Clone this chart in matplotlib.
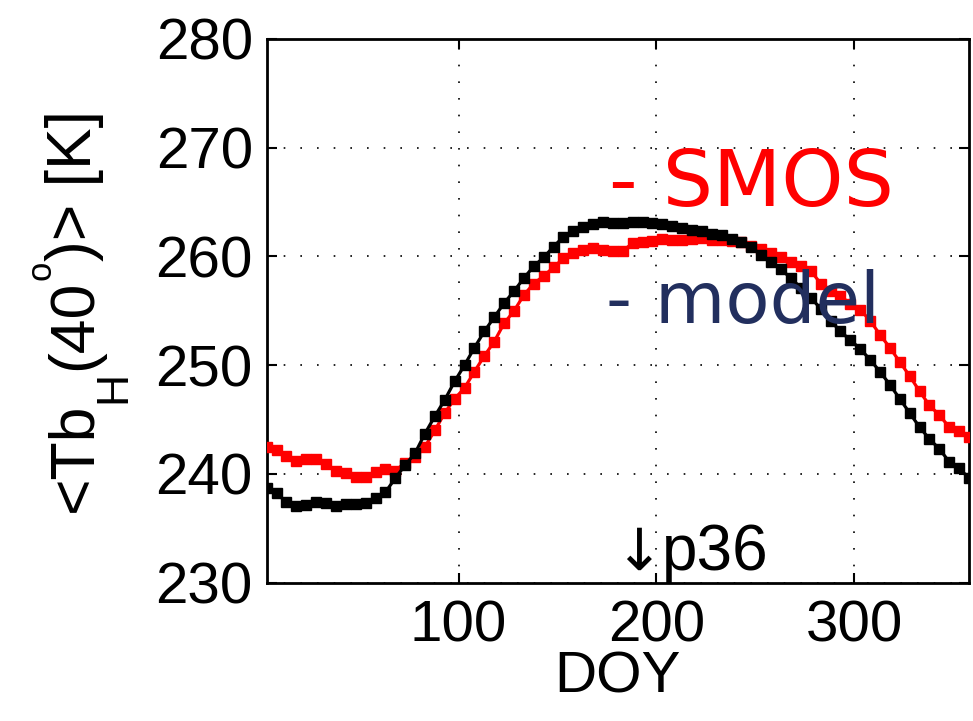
import matplotlib
matplotlib.use("Agg")
import matplotlib.pyplot as plt
import numpy as np

plt.rcParams['font.family'] = ['Liberation Sans', 'DejaVu Sans']

# Day of year (5-day steps)
doy = list(range(3, 359, 5))

tb_smos = [242.5, 242.2, 241.6, 241.15, 241.4, 241.35, 240.9, 240.3, 240.05, 239.7,
           239.7, 240.2, 240.4, 240.3, 241.0, 241.5, 242.5, 244.0, 245.6, 246.9,
           247.9, 249.4, 250.84, 252.16, 253.84, 254.98, 256.45, 257.5, 258.2, 259.0,
           259.82, 260.34, 260.6, 260.74, 260.6, 260.53, 260.53, 261.2, 261.35, 261.42,
           261.57, 261.5, 261.5, 261.6, 261.66, 261.55, 261.5, 261.4, 261.3, 260.95,
           260.65, 260.35, 259.9, 259.5, 259.1, 258.7, 257.5, 256.8, 256.4, 255.6,
           255.1, 254.1, 252.8, 251.6, 250.3, 249.0, 247.6, 246.3, 245.4, 244.3,
           243.9, 243.4]

tb_model = [238.7, 238.2, 237.4, 237.0, 237.1, 237.4, 237.3, 237.0, 237.2, 237.2,
            237.3, 237.8, 238.3, 239.6, 240.8, 241.9, 243.7, 245.3, 246.8, 248.5,
            250.0, 251.6, 253.1, 254.4, 255.7, 256.8, 258.0, 259.1, 259.9, 260.9,
            261.8, 262.3, 262.7, 263.0, 263.2, 263.1, 263.1, 263.2, 263.2, 263.1,
            262.95, 262.8, 262.6, 262.45, 262.3, 262.1, 262.0, 261.6, 261.35, 260.9,
            260.1, 259.5, 258.8, 258.0, 257.1, 256.2, 255.2, 254.1, 253.1, 252.3,
            251.5, 250.5, 249.4, 248.2, 246.9, 245.6, 244.3, 243.2, 242.3, 241.1,
            240.5, 239.6]

xticks = [100, 200, 300]
yticks = [230, 240, 250, 260, 270, 280]

W, H = 973, 721
fig = plt.figure(figsize=(W / 100, H / 100), dpi=100)
L, R, T, B = 266.7, 969, 39, 582.5
ax = fig.add_axes([L / W, 1 - B / H, (R - L) / W, (B - T) / H])

ax.plot(doy, tb_smos, '-s', color='#ff0000', lw=2.3, ms=7.3, mec='#ff0000', mfc='#ff0000', zorder=3)
ax.plot(doy, tb_model, '-s', color='#000000', lw=2.3, ms=7.3, mec='#000000', mfc='#000000', zorder=4)

ax.set_xlim(3, 358)
ax.set_ylim(230, 280)
ax.set_xticks(xticks)
ax.set_yticks(yticks)
ax.set_xticklabels([str(v) for v in xticks])
ax.set_yticklabels([str(v) for v in yticks])
ax.tick_params(direction='in', length=7, width=1.5, labelsize=42, top=True, right=True,
               colors='black')
ax.tick_params(axis='x', pad=12)
ax.tick_params(axis='y', pad=10)
for s in ax.spines.values():
    s.set_linewidth(2.0)
ax.grid(True, color='black', linestyle=(0, (1, 9)), linewidth=1.2)
ax.set_axisbelow(True)

ax.set_xlabel('DOY', fontsize=42, labelpad=-2)


def px(x, y):
    return x / W, 1 - y / H


# y-label built from pieces (rotated 90 degrees), bottom to top
fig.canvas.draw()
renderer = fig.canvas.get_renderer()
base_x = 91.0
pieces = [('<Tb', 45, 0.0), ('H', 32, 34.0), ('(40', 45, 0.0), ('o', 25, -40.0), (')> [K]', 45, 0.0)]
ycur = 512.0
for s, fs, dx in pieces:
    t = fig.text(*px(base_x + dx, ycur), s, fontsize=fs, rotation=90, rotation_mode='anchor',
                 ha='left', va='baseline', color='black')
    bb = t.get_window_extent(renderer=renderer)
    ycur -= bb.height

fig.text(*px(609, 206), '- SMOS', color='#ff0000', fontsize=57, family='DejaVu Sans',
         ha='left', va='baseline', zorder=10)
fig.text(*px(606, 323), '- model', color='#222f5e', fontsize=52, family='DejaVu Sans',
         ha='left', va='baseline', zorder=10)
fig.text(*px(614, 570), '\u2193', color='black', fontsize=42, family='DejaVu Sans',
         ha='left', va='baseline', zorder=10)
fig.text(*px(662, 570), 'p36', color='black', fontsize=46,
         ha='left', va='baseline', zorder=10)

fig.savefig('out.png', dpi=100)
